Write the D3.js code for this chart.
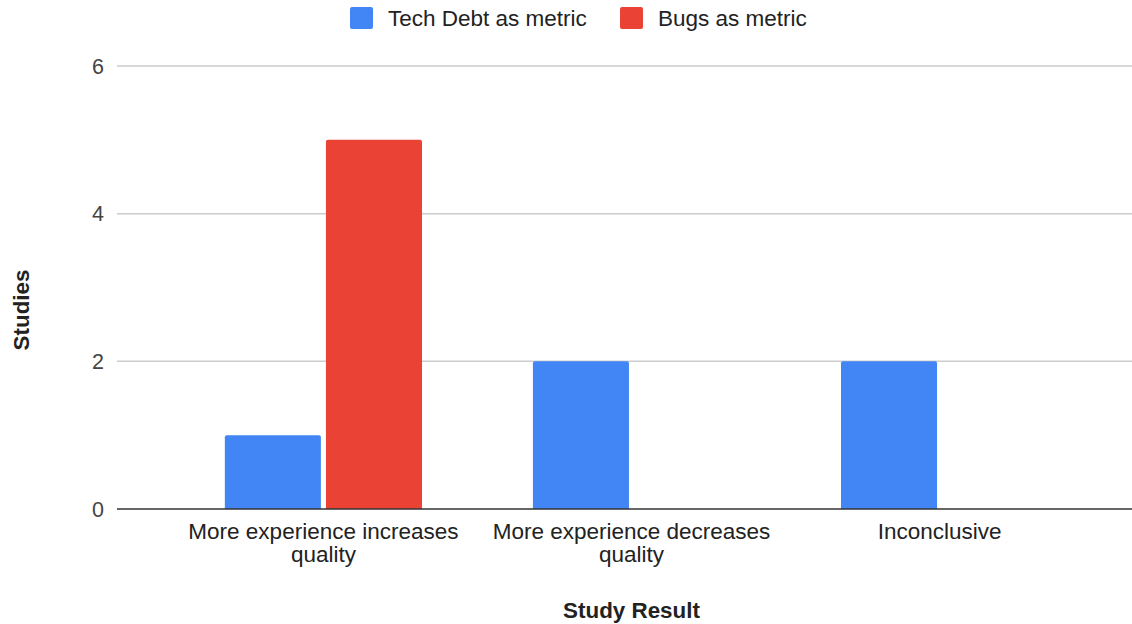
<!DOCTYPE html>
<html><head><meta charset="utf-8">
<script src="https://cdn.jsdelivr.net/npm/d3@7"></script>
<style>html,body{margin:0;padding:0;background:#fff}svg{display:block}</style>
</head><body><svg id="c" width="1132" height="624"></svg>
<script>
const categories = [["More experience increases","quality"],["More experience decreases","quality"],["Inconclusive"]];
const seriesNames = ["Tech Debt as metric","Bugs as metric"];
const techDebt = [1, 2, 2];
const bugs = [5, 0, 0];
const yTicks = [0, 2, 4, 6];
const colors = ["#4285F4","#EA4335"];

(function(){
const W = 1132, H = 624;
const mLeft = 117, mRightFull = 1146, mTop = 66, mBottom = 509;
const font = "Arial, 'Liberation Sans', sans-serif";
const svg = d3.select("#c");

const y = d3.scaleLinear().domain([0, 6]).range([mBottom, mTop]);
const x = d3.scaleBand().domain(d3.range(categories.length)).range([mLeft, mRightFull]).paddingInner(0.36).paddingOuter(0.35);
const xs = d3.scaleBand().domain([0,1]).range([0, x.bandwidth()]).paddingInner(0.05);

svg.append("g").selectAll("line").data(yTicks.filter(d=>d>0)).join("line")
  .attr("x1", mLeft).attr("x2", W).attr("y1", d=>y(d)).attr("y2", d=>y(d))
  .attr("stroke", "#cccccc").attr("stroke-width", 1.5);

svg.append("g").selectAll("text").data(yTicks).join("text")
  .attr("x", 104).attr("y", d=>y(d)).attr("dy", "0.35em").attr("text-anchor","end")
  .attr("font-family", font).attr("font-size", 21.5).attr("fill", "#444")
  .text(d=>d);

const series = [techDebt, bugs];
const r = 2;
function barPath(x0, w, y0, y1){
  const h = y1 - y0; if (h <= 0) return "";
  return `M${x0},${y1}V${y0+r}Q${x0},${y0} ${x0+r},${y0}H${x0+w-r}Q${x0+w},${y0} ${x0+w},${y0+r}V${y1}Z`;
}
series.forEach((vals, si) => {
  svg.append("g").selectAll("path").data(vals).join("path")
    .attr("d", (d,i) => barPath(x(i)+xs(si), xs.bandwidth(), y(d), y(0)))
    .attr("fill", colors[si]);
});

svg.append("line").attr("x1", mLeft).attr("x2", W).attr("y1", y(0)).attr("y2", y(0))
  .attr("stroke", "#333").attr("stroke-width", 1.5);

const cat = svg.append("g").selectAll("text").data(categories).join("text")
  .attr("text-anchor","middle").attr("font-family", font).attr("font-size", 22.5).attr("fill","#222");
cat.each(function(lines, i){
  const t = d3.select(this);
  lines.forEach((ln, k) => {
    t.append("tspan").attr("x", x(i) + x.bandwidth()/2).attr("y", 539 + k*23).text(ln);
  });
});

svg.append("text").attr("x", x(1)+x.bandwidth()/2).attr("y", 618).attr("text-anchor","middle")
  .attr("font-family", font).attr("font-size", 22.4).attr("font-weight","bold").attr("fill","#222").text("Study Result");
svg.append("text").attr("transform", "translate(29,310) rotate(-90)").attr("text-anchor","middle")
  .attr("font-family", font).attr("font-size", 22.4).attr("font-weight","bold").attr("fill","#222").text("Studies");

const leg = svg.append("g");
const legX = [350, 620];
seriesNames.forEach((n, i) => {
  leg.append("rect").attr("x", legX[i]).attr("y", 7).attr("width", 23).attr("height", 22).attr("rx", 2).attr("fill", colors[i]);
  leg.append("text").attr("x", legX[i] + 38).attr("y", 18).attr("dy","0.35em")
    .attr("font-family", font).attr("font-size", 22.5).attr("fill","#222").text(n);
});
})();
</script></body></html>
